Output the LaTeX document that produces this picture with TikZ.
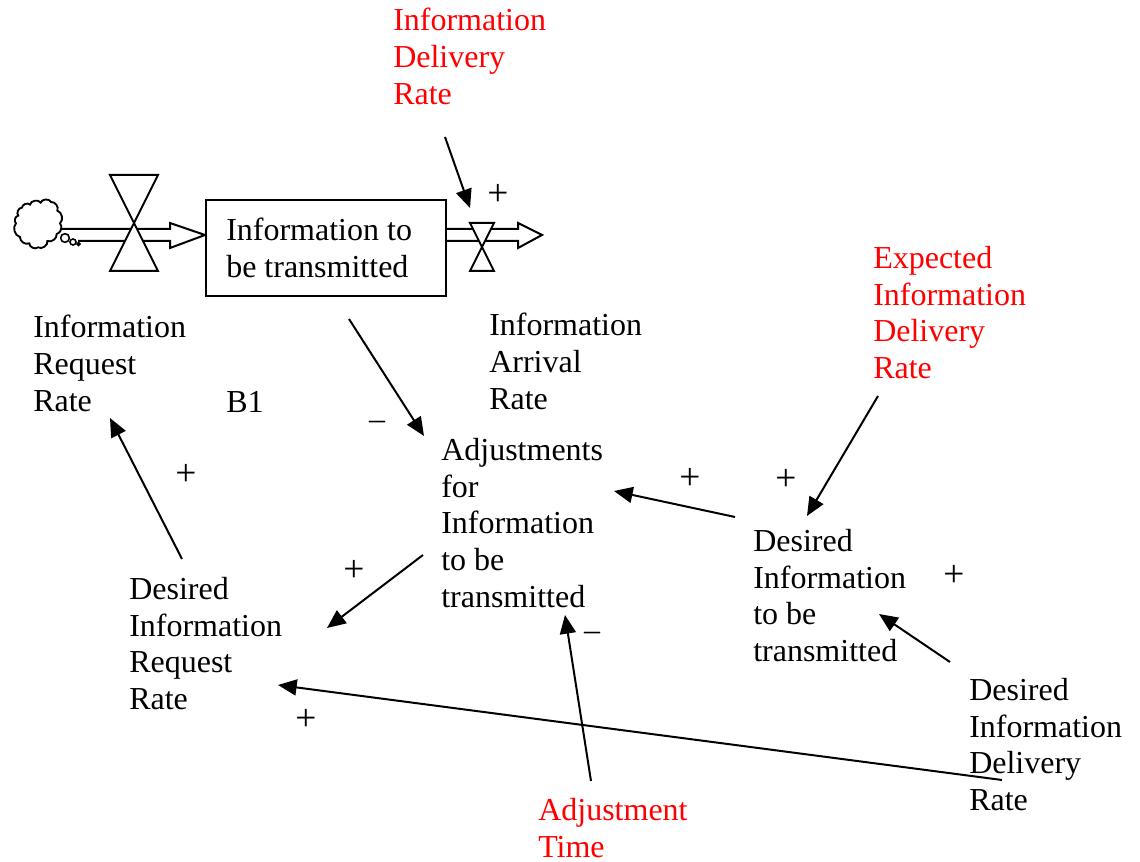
\documentclass[tikz,border=0pt]{standalone}
\usepackage{fontspec}
\setmainfont{Liberation Serif}
\usetikzlibrary{arrows.meta}
\tikzset{
  px/.style={x=0.75pt,y=-0.75pt},
  lab/.style={anchor=north west,inner sep=0pt,align=left,font=\fontsize{24}{27.5}\selectfont,text=black},
  redlab/.style={lab,text=red},
  sign/.style={anchor=center,inner sep=0pt,font=\fontsize{24}{27.5}\selectfont},
  plus/.style={anchor=center,inner sep=0pt,font=\fontsize{28}{28}\selectfont},
  link/.style={line width=1.5pt,-{Triangle[length=14pt,width=12pt]}},
  pipe/.style={line width=1.5pt,fill=white,line join=miter},
  valve/.style={line width=1.5pt,fill=white,line join=miter},
  dot/.style={circle,draw,inner sep=0pt,fill=white}
}
\begin{document}
\begin{tikzpicture}[px]
\useasboundingbox (0,0) rectangle (1140,862);
% texts
\node[redlab] (idr) at (393,8) {Information\\Delivery\\Rate};
\node[redlab] (eidr) at (873,246) {Expected\\Information\\Delivery\\Rate};
\node[lab] (irr) at (33,315) {Information\\Request\\Rate};
\node[lab] (iar) at (489,313) {Information\\Arrival\\Rate};
\node[lab] (b1) at (226,391) {B1};
\node[lab] (adj) at (441,438) {Adjustments\\for\\Information\\to be\\transmitted};
\node[lab] (dit) at (753,529) {Desired\\Information\\to be\\transmitted};
\node[lab] (dirr) at (129,577) {Desired\\Information\\Request\\Rate};
\node[lab] (didr) at (969,678) {Desired\\Information\\Delivery\\Rate};
\node[redlab] (at) at (538,798) {Adjustment\\Time};
% pipe
\coordinate (pa) at (62,229);
\coordinate (pb) at (78,241);
\coordinate (pc) at (446,229);
\coordinate (pd) at (446,241);
\draw[pipe] (pa) -- (170,229) -- (170,223) -- (205,235) -- (170,248) -- (170,241) -- (pb);
\draw[pipe] (pc) -- (518,229) -- (518,223) -- (542,235) -- (518,248) -- (518,241) -- (pd);
% cloud
\draw[line width=1.4pt,fill=white,x=0.25pt,y=-0.25pt,shift={(0,-120pt)}]
  (66,143) to[bend left=70] (90,134) to[bend left=70] (122,128) to[bend left=70] (153,126)
  to[bend left=60] (172,152) to[bend left=60] (180,190) to[bend left=60] (170,222)
  to[bend left=60] (142,243) to[bend left=70] (114,262) to[bend left=70] (88,250)
  to[bend left=60] (60,231) to[bend left=60] (48,190) to[bend left=70] (55,167) to[bend left=70] cycle;
\node[dot,line width=1.2pt,minimum size=6.5pt] (c1) at (65,238) {};
\node[dot,line width=1.2pt,minimum size=4.5pt] (c2) at (73,242) {};
\node[dot,line width=1pt,minimum size=2.5pt,fill=black] (c3) at (78.5,244) {};
% valves
\draw[valve] (110,175) -- (158,175) -- (134,223) -- cycle;
\draw[valve] (110,271) -- (158,271) -- (134,223) -- cycle;
\draw[valve] (470,223) -- (494,223) -- (482,247) -- cycle;
\draw[valve] (470,271) -- (494,271) -- (482,247) -- cycle;
% stock
\node[draw,line width=1.5pt,fill=white,minimum width=180pt,minimum height=72pt,inner sep=0pt,anchor=north west] (box) at (205,199) {};
\node[lab] (boxt) at (226,218) {Information to\\be transmitted};
% connector ends
\coordinate (a1) at (445,137); \coordinate (a2) at (470,208);
\coordinate (b1a) at (349,319); \coordinate (b2) at (424,436);
\coordinate (c1a) at (878,396); \coordinate (c2a) at (807,516);
\coordinate (d1) at (735,517); \coordinate (d2) at (614,491);
\coordinate (e1) at (423,555); \coordinate (e2) at (327,628);
\coordinate (f1) at (182,559); \coordinate (f2) at (110,418);
\coordinate (g1) at (950,662); \coordinate (g2) at (879,614);
\coordinate (h1) at (1002,780); \coordinate (h2) at (278,685);
\coordinate (i1) at (591,781); \coordinate (i2) at (565,615);
\draw[link] (a1) -- (a2);
\draw[link] (b1a) -- (b2);
\draw[link] (c1a) -- (c2a);
\draw[link] (d1) -- (d2);
\draw[link] (e1) -- (e2);
\draw[link] (f1) -- (f2);
\draw[link] (g1) -- (g2);
\draw[link] (h1) -- (h2);
\draw[link] (i1) -- (i2);
% signs
\node[plus] (s1) at (498,195) {+};
\node[plus] (s2) at (186,475) {+};
\node[plus] (s3) at (690,479) {+};
\node[plus] (s4) at (786,480) {+};
\node[plus] (s5) at (354,571) {+};
\node[plus] (s6) at (954,576) {+};
\node[plus] (s7) at (306,720) {+};
\node[sign] (s8) at (377,425) {–};
\node[sign] (s9) at (592,636) {–};
\end{tikzpicture}
\end{document}
